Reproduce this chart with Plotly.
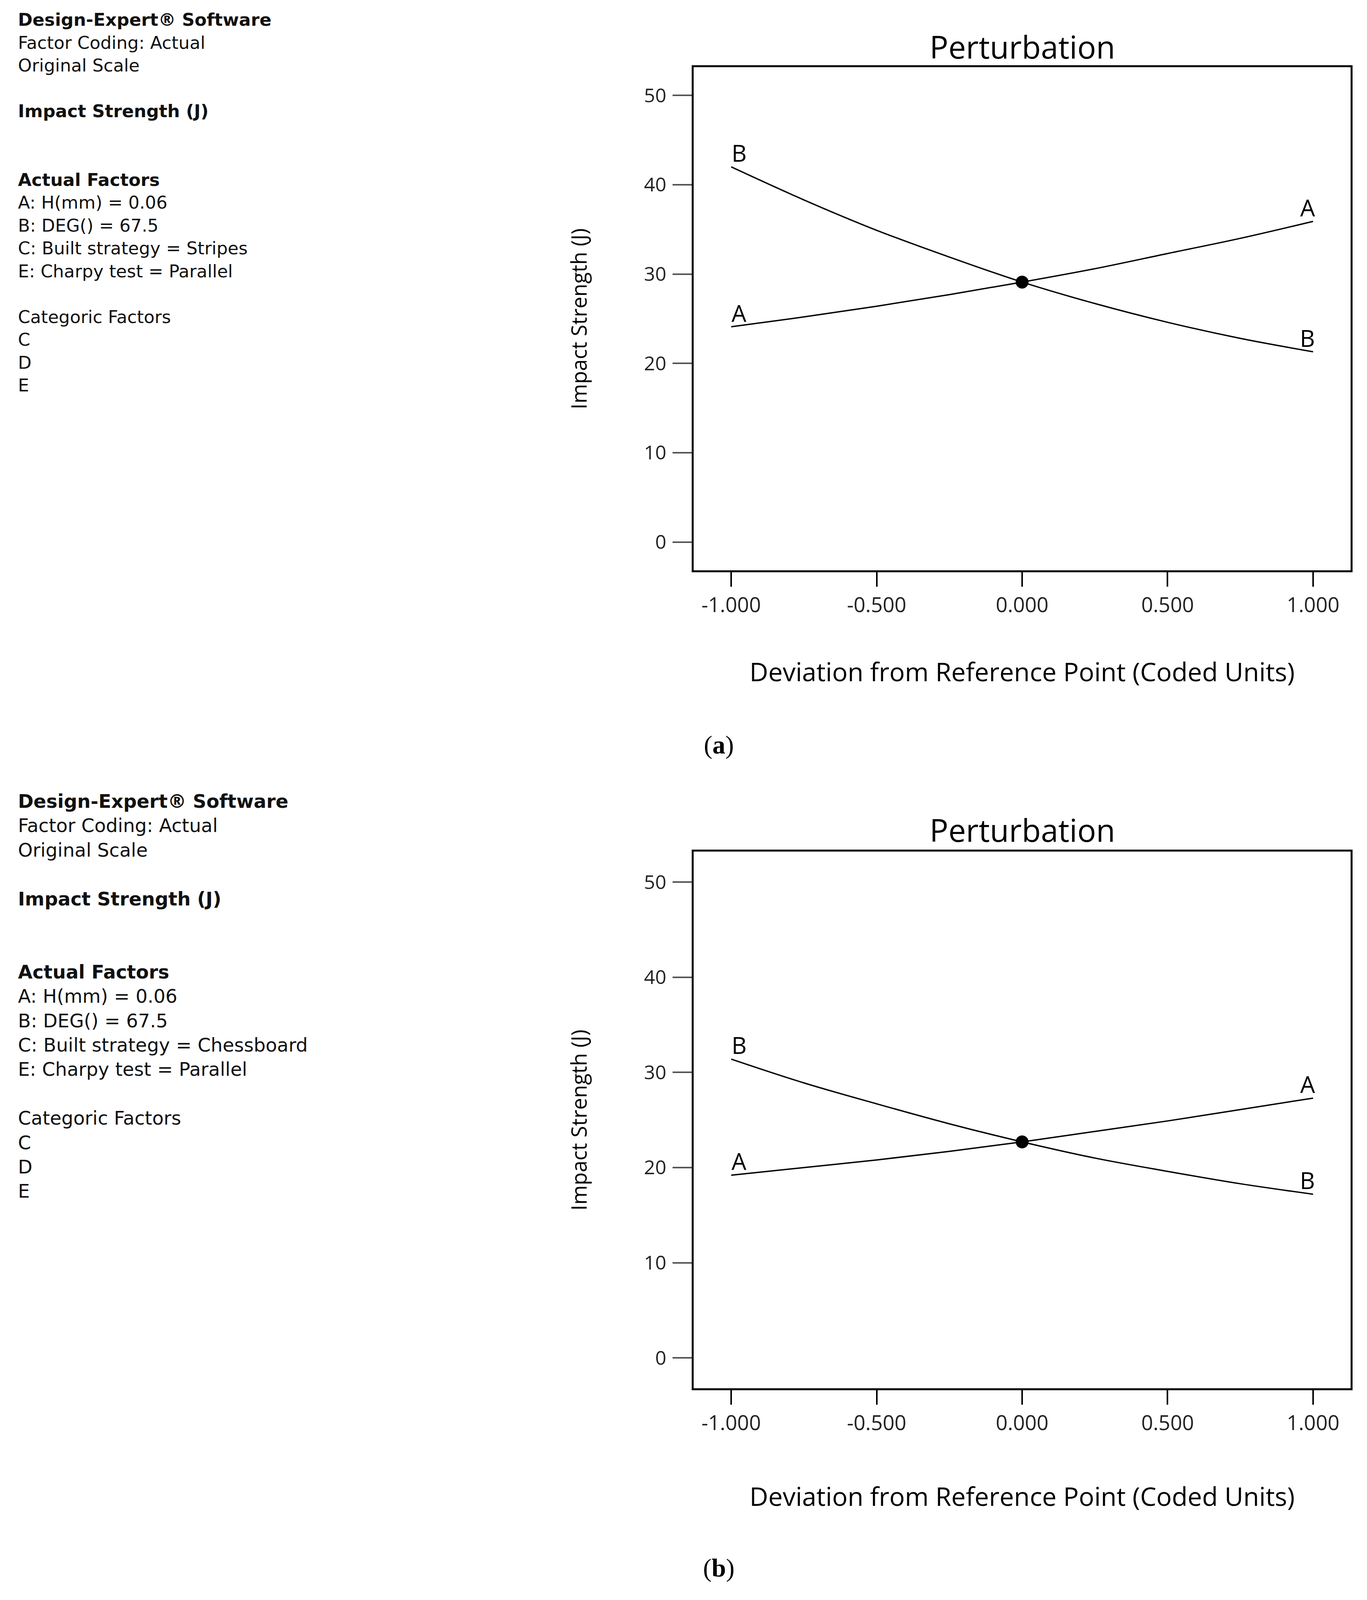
import plotly.graph_objects as go

# Reference canvas (all positions below are given in reference pixels)
W, H = 3500, 5015
# The browser viewport is clamped in height; the figure is fitted to it.
H_VIEW = 4096
KY = H_VIEW / H

# ---------------- data ----------------
x_dev = [-1.0, -0.75, -0.5, -0.25, 0.0, 0.25, 0.5, 0.75, 1.0]
x_tickvals = [-1.0, -0.5, 0.0, 0.5, 1.0]
x_ticktext = ["-1.000", "-0.500", "0.000", "0.500", "1.000"]
y_tickvals = [0, 10, 20, 30, 40, 50]

# Panel (a): Built strategy = Stripes
a_A = [24.1, 25.2, 26.4, 27.7, 29.1, 30.6, 32.3, 34.0, 35.9]
a_B = [42.0, 38.3, 34.9, 31.9, 29.1, 26.7, 24.6, 22.8, 21.3]
a_ref = 29.1
# Panel (b): Built strategy = Chessboard
b_A = [19.2, 20.0, 20.8, 21.7, 22.7, 23.8, 24.9, 26.1, 27.3]
b_B = [31.4, 28.9, 26.7, 24.6, 22.7, 21.0, 19.6, 18.3, 17.2]
b_ref = 22.7

NB = "\u00a0"
info_a = [
    "<b>Design-Expert® Software</b>",
    "Factor Coding: Actual",
    "Original Scale",
    NB,
    "<b>Impact Strength (J)</b>",
    NB,
    NB,
    "<b>Actual Factors</b>",
    "A: H(mm) = 0.06",
    "B: DEG() = 67.5",
    "C: Built strategy = Stripes",
    "E: Charpy test = Parallel",
    NB,
    "Categoric Factors",
    "C",
    "D",
    "E",
]
info_b = [
    "<b>Design-Expert® Software</b>",
    "Factor Coding: Actual",
    "Original Scale",
    NB,
    "<b>Impact Strength (J)</b>",
    NB,
    NB,
    "<b>Actual Factors</b>",
    "A: H(mm) = 0.06",
    "B: DEG() = 67.5",
    "C: Built strategy = Chessboard",
    "E: Charpy test = Parallel",
    NB,
    "Categoric Factors",
    "C",
    "D",
    "E",
]

FONT = "Open Sans"
INFO_FONT = "DejaVu Sans"

def px_x(x):
    return x / W

def px_y(y):
    return 1 - y / H

# plot-box geometry (reference pixels)
box_l, box_r = 1776, 3458
a_top, a_bot = 210, 1788
b_top, b_bot = 2669, 4352

fig = go.Figure()

for A, B, ref, xa, ya in [(a_A, a_B, a_ref, "x", "y"), (b_A, b_B, b_ref, "x2", "y2")]:
    for ys in (A, B):
        fig.add_trace(go.Scatter(x=x_dev, y=ys, mode="lines", xaxis=xa, yaxis=ya,
                                 line=dict(color="black", width=3.5, shape="spline"),
                                 showlegend=False, hoverinfo="skip"))
    fig.add_trace(go.Scatter(x=[0.0], y=[ref], mode="markers", xaxis=xa, yaxis=ya,
                             marker=dict(color="black", size=33),
                             showlegend=False, hoverinfo="skip"))

annotations = []
# curve labels
for A, B, xr, yr in [(a_A, a_B, "x", "y"), (b_A, b_B, "x2", "y2")]:
    for name, ys in (("A", A), ("B", B)):
        annotations.append(dict(x=x_dev[0], y=ys[0], xref=xr, yref=yr, text=name,
                                showarrow=False, xshift=20, yshift=round(44 * KY),
                                font=dict(family=FONT, size=60, color="black")))
        annotations.append(dict(x=x_dev[-1], y=ys[-1], xref=xr, yref=yr, text=name,
                                showarrow=False, xshift=-14, yshift=round(44 * KY),
                                font=dict(family=FONT, size=60, color="black")))

# left info text blocks (one multi-line text each)
for lines, top_px, fsize in ((info_a, 27, 45), (info_b, 2474, 48)):
    annotations.append(dict(x=px_x(44), y=px_y(top_px), xref="paper", yref="paper",
                            text="<br>".join(lines), showarrow=False, align="left",
                            xanchor="left", yanchor="top",
                            font=dict(family=INFO_FONT, size=fsize, color="#111111")))

cx = (box_l + box_r) / 2
for top, bot, title_y, xtitle_y, lab_y, lab in [
    (a_top, a_bot, 145, 2103, 2335, "(<b>a</b>)"),
    (b_top, b_bot, 2600, 4688, 4915, "(<b>b</b>)"),
]:
    annotations.append(dict(x=px_x(cx), y=px_y(title_y), xref="paper", yref="paper",
                            text="Perturbation", showarrow=False, xanchor="center", yanchor="middle",
                            font=dict(family=FONT, size=80, color="black")))
    annotations.append(dict(x=px_x(cx), y=px_y(xtitle_y), xref="paper", yref="paper",
                            text="Deviation from Reference Point (Coded Units)", showarrow=False,
                            xanchor="center", yanchor="middle",
                            font=dict(family=FONT, size=66, color="black")))
    annotations.append(dict(x=px_x(1481), y=px_y((top + bot) / 2), xref="paper", yref="paper",
                            text="Impact Strength (J)", showarrow=False, textangle=-90,
                            xanchor="center", yanchor="middle",
                            font=dict(family=FONT, size=54, color="black")))
    annotations.append(dict(x=px_x(1840), y=px_y(lab_y), xref="paper", yref="paper",
                            text=lab, showarrow=False, xanchor="center", yanchor="middle",
                            font=dict(family="Liberation Serif", size=66, color="black")))

xaxis_common = dict(range=[-1.129, 1.129], tickvals=x_tickvals, ticktext=x_ticktext,
                    showgrid=False, zeroline=False, showline=True, mirror=True,
                    linecolor="black", linewidth=5, ticks="outside", ticklen=round(45 * KY),
                    tickwidth=4, tickcolor="black", ticklabelstandoff=1,
                    tickfont=dict(family=FONT, size=53, color="#222222"),
                    domain=[px_x(box_l), px_x(box_r)], fixedrange=True)
yaxis_common = dict(tickvals=y_tickvals, showgrid=False, zeroline=False, showline=True,
                    mirror=True, linecolor="black", linewidth=5, ticks="outside",
                    ticklen=49, tickwidth=4, tickcolor="#555555", ticklabelstandoff=6,
                    tickfont=dict(family=FONT, size=50, color="#222222"), fixedrange=True)

fig.update_layout(
    width=W, height=H_VIEW,
    margin=dict(l=0, r=0, t=0, b=0),
    paper_bgcolor="white", plot_bgcolor="white",
    xaxis=dict(**xaxis_common, anchor="y"),
    yaxis=dict(**yaxis_common, range=[-3.18, 53.18], anchor="x",
               domain=[px_y(a_bot), px_y(a_top)]),
    xaxis2=dict(**xaxis_common, anchor="y2"),
    yaxis2=dict(**yaxis_common, range=[-3.22, 53.22], anchor="x2",
                domain=[px_y(b_bot), px_y(b_top)]),
    annotations=annotations,
    showlegend=False,
)

fit_js = """
document.body.style.margin = '0';
document.documentElement.style.overflow = 'hidden';
var gd = document.getElementById('{plot_id}');
var vh = window.innerHeight, vw = window.innerWidth;
if (vh > 0 && vw > 0 && (Math.abs(vh - %d) > 2 || Math.abs(vw - %d) > 2)) {
    Plotly.relayout(gd, {height: Math.min(vh, %d), width: Math.min(vw, %d)});
}
""" % (H_VIEW, W, H, W)

fig.write_html("out.html", post_script=fit_js, config={"displayModeBar": False})
